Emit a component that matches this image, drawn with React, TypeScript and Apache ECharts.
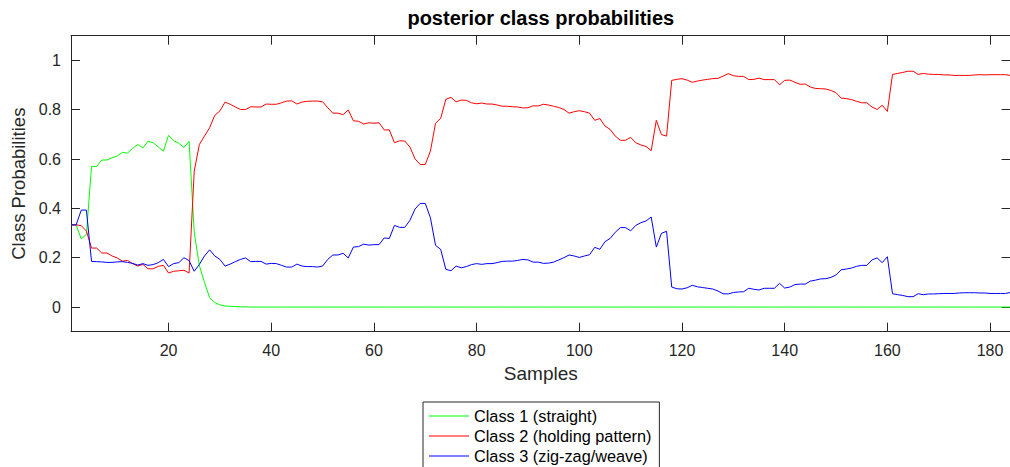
import React, { useEffect, useRef } from "react";
import * as echarts from "echarts";

const titleText = "posterior class probabilities";
const xName = "Samples";
const yName = "Class Probabilities";
const seriesNames = ["Class 1 (straight)", "Class 2 (holding pattern)", "Class 3 (zig-zag/weave)"];
const seriesColors = ["#00ff00", "#ff0000", "#0000ff"];

const class1 = [
  0.333, 0.333, 0.276, 0.295, 0.570, 0.570, 0.596, 0.596, 0.605, 0.612,
  0.627, 0.624, 0.643, 0.659, 0.645, 0.672, 0.666, 0.649, 0.632, 0.696,
  0.674, 0.664, 0.647, 0.672, 0.304, 0.168, 0.100, 0.038, 0.018, 0.009,
  0.004, 0.003, 0.002, 0.001, 0.001,
  0, 0, 0, 0, 0, 0, 0, 0, 0, 0, 0, 0, 0, 0, 0, 0, 0, 0, 0, 0,
  0, 0, 0, 0, 0, 0, 0, 0, 0, 0, 0, 0, 0, 0, 0, 0, 0, 0, 0, 0,
  0, 0, 0, 0, 0, 0, 0, 0, 0, 0, 0, 0, 0, 0, 0, 0, 0, 0, 0, 0,
  0, 0, 0, 0, 0, 0, 0, 0, 0, 0, 0, 0, 0, 0, 0, 0, 0, 0, 0, 0,
  0, 0, 0, 0, 0, 0, 0, 0, 0, 0, 0, 0, 0, 0, 0, 0, 0, 0, 0, 0,
  0, 0, 0, 0, 0, 0, 0, 0, 0, 0, 0, 0, 0, 0, 0, 0, 0, 0, 0, 0,
  0, 0, 0, 0, 0, 0, 0, 0, 0, 0, 0, 0, 0, 0, 0, 0, 0, 0, 0, 0,
  0, 0, 0, 0, 0, 0, 0, 0, 0,
];

const class2 = [
  0.333, 0.333, 0.330, 0.308, 0.239, 0.239, 0.219, 0.219, 0.207, 0.199,
  0.186, 0.189, 0.176, 0.166, 0.173, 0.155, 0.155, 0.165, 0.169, 0.138,
  0.145, 0.147, 0.149, 0.138, 0.551, 0.659, 0.693, 0.727, 0.777, 0.795,
  0.831,
  0.822, 0.811, 0.801, 0.801, 0.812, 0.811, 0.811, 0.823, 0.822, 0.822,
  0.828, 0.835, 0.836, 0.823, 0.831, 0.834, 0.835, 0.835, 0.832, 0.808,
  0.786, 0.786, 0.780, 0.799, 0.755, 0.753, 0.742, 0.747, 0.745, 0.747,
  0.718,
  0.718, 0.666, 0.674, 0.673, 0.649, 0.601, 0.578, 0.578, 0.632, 0.745,
  0.765, 0.842, 0.850, 0.832, 0.839, 0.838, 0.828, 0.824, 0.827, 0.823,
  0.823, 0.819, 0.814, 0.814, 0.812, 0.811, 0.807, 0.808, 0.816, 0.815,
  0.822,
  0.819, 0.814, 0.809, 0.801, 0.786, 0.792, 0.796, 0.792, 0.786, 0.757,
  0.764, 0.734, 0.720, 0.693, 0.676, 0.676, 0.688, 0.666, 0.657, 0.651,
  0.634, 0.757, 0.699, 0.693, 0.919, 0.923, 0.926, 0.920, 0.911, 0.916,
  0.920,
  0.923, 0.926, 0.927, 0.936, 0.946, 0.938, 0.935, 0.935, 0.922, 0.923,
  0.928, 0.922, 0.922, 0.922, 0.901, 0.919, 0.920, 0.911, 0.903, 0.904,
  0.892, 0.886, 0.885, 0.884, 0.878, 0.869, 0.847, 0.845, 0.841, 0.834,
  0.828, 0.828, 0.811, 0.801, 0.818, 0.793, 0.943, 0.947, 0.951, 0.956,
  0.956, 0.943, 0.947, 0.944, 0.943, 0.943, 0.941, 0.941, 0.939, 0.939,
  0.939, 0.939, 0.941, 0.942, 0.941, 0.942, 0.942, 0.942, 0.942, 0.939,
];

const class3 = [
  0.333, 0.333, 0.393, 0.393, 0.185, 0.184, 0.183, 0.181, 0.181, 0.183,
  0.184, 0.181, 0.177, 0.170, 0.176, 0.169, 0.172, 0.180, 0.193, 0.164,
  0.176, 0.180, 0.200, 0.188, 0.145, 0.173, 0.207, 0.232, 0.207, 0.193,
  0.166,
  0.174, 0.184, 0.193, 0.199, 0.184, 0.185, 0.185, 0.174, 0.177, 0.176,
  0.169, 0.162, 0.162, 0.174, 0.166, 0.164, 0.164, 0.162, 0.166, 0.193,
  0.211, 0.211, 0.218, 0.199, 0.243, 0.245, 0.255, 0.251, 0.253, 0.253,
  0.280,
  0.278, 0.331, 0.323, 0.323, 0.351, 0.397, 0.420, 0.420, 0.362, 0.250,
  0.234, 0.153, 0.147, 0.166, 0.159, 0.164, 0.172, 0.176, 0.173, 0.176,
  0.176, 0.180, 0.185, 0.186, 0.186, 0.189, 0.193, 0.191, 0.182, 0.182,
  0.177,
  0.178, 0.182, 0.191, 0.200, 0.211, 0.207, 0.201, 0.207, 0.212, 0.242,
  0.234, 0.265, 0.278, 0.303, 0.322, 0.322, 0.309, 0.331, 0.342, 0.349,
  0.365, 0.243, 0.299, 0.307, 0.081, 0.074, 0.073, 0.078, 0.088, 0.082,
  0.079,
  0.076, 0.073, 0.065, 0.054, 0.053, 0.059, 0.061, 0.062, 0.076, 0.072,
  0.069, 0.076, 0.076, 0.076, 0.096, 0.077, 0.081, 0.091, 0.093, 0.093,
  0.105, 0.109, 0.114, 0.115, 0.120, 0.130, 0.151, 0.154, 0.158, 0.165,
  0.169, 0.169, 0.191, 0.199, 0.180, 0.204, 0.054, 0.050, 0.047, 0.042,
  0.042, 0.054, 0.050, 0.053, 0.053, 0.054, 0.055, 0.055, 0.055, 0.057,
  0.058, 0.058, 0.058, 0.057, 0.057, 0.055, 0.055, 0.055, 0.055, 0.059,
];

const xMin = 1;
const xMax = 184;
const yMin = -0.1;
const yMax = 1.1;

const FONT = "'Liberation Sans', Arial, Helvetica, sans-serif";
const AX = "#262626";

function toPoints(values: number[]) {
  return values.map((v, i) => [i + 1, v]);
}

export default function App() {
  const ref = useRef<HTMLDivElement>(null);
  useEffect(() => {
    if (!ref.current) return;
    const chart = echarts.init(ref.current, undefined, { renderer: "svg" });
    const axisCommon = {
      axisLine: { show: true, onZero: false, lineStyle: { color: AX, width: 1 } },
      axisTick: { show: true, inside: true, length: 9, lineStyle: { color: AX, width: 1 } },
      splitLine: { show: false },
    };
    const allSeries = [class1, class2, class3];
    chart.setOption({
      animation: false,
      backgroundColor: "#ffffff",
      title: {
        text: titleText,
        left: 540.8,
        top: 8,
        textAlign: "center",
        padding: 0,
        textStyle: { fontFamily: FONT, fontSize: 20, fontWeight: "bold", color: "#000000" },
      },
      grid: {
        left: 71,
        top: 35.7,
        width: 939.6,
        height: 296,
        containLabel: false,
        outerBoundsMode: "none",
      },
      legend: {
        orient: "vertical",
        left: 423,
        top: 402,
        padding: [6, 8, 8, 6],
        itemWidth: 40,
        itemHeight: 1,
        itemGap: 4,
        icon: "rect",
        backgroundColor: "#ffffff",
        borderColor: AX,
        borderWidth: 1,
        borderRadius: 0,
        textStyle: { fontFamily: FONT, fontSize: 16.3, color: "#000000", lineHeight: 16 },
        data: seriesNames,
      },
      xAxis: [
        {
          type: "value",
          min: xMin,
          max: xMax,
          splitNumber: 9,
          position: "bottom",
          name: xName,
          nameLocation: "middle",
          nameGap: 31,
          nameTextStyle: { fontFamily: FONT, fontSize: 19, color: AX },
          axisLabel: {
            show: true,
            showMinLabel: false,
            showMaxLabel: false,
            margin: 11,
            fontFamily: FONT,
            fontSize: 16,
            color: AX,
          },
          ...axisCommon,
        },
        {
          type: "value",
          min: xMin,
          max: xMax,
          splitNumber: 9,
          position: "top",
          axisLabel: { show: false },
          ...axisCommon,
        },
      ],
      yAxis: [
        {
          type: "value",
          min: yMin,
          max: yMax,
          splitNumber: 6,
          position: "left",
          name: yName,
          nameLocation: "middle",
          nameGap: 42,
          nameTextStyle: { fontFamily: FONT, fontSize: 18.5, color: AX },
          axisLabel: {
            show: true,
            showMinLabel: false,
            showMaxLabel: false,
            margin: 10,
            fontFamily: FONT,
            fontSize: 16,
            color: AX,
          },
          ...axisCommon,
        },
        {
          type: "value",
          min: yMin,
          max: yMax,
          splitNumber: 6,
          position: "right",
          axisLabel: { show: false },
          ...axisCommon,
        },
      ],
      series: allSeries.map((vals, k) => ({
        name: seriesNames[k],
        type: "line",
        xAxisIndex: 0,
        yAxisIndex: 0,
        data: toPoints(vals),
        symbol: "none",
        showSymbol: false,
        smooth: false,
        color: seriesColors[k],
        lineStyle: { color: seriesColors[k], width: 1 },
        emphasis: { disabled: true },
      })),
    });
    return () => chart.dispose();
  }, []);
  return (
    <div
      style={{
        position: "fixed",
        left: 0,
        top: 0,
        width: 1010,
        height: 467,
        overflow: "hidden",
        background: "#ffffff",
      }}
    >
      <div ref={ref} style={{ width: 1030, height: 540 }} />
    </div>
  );
}
